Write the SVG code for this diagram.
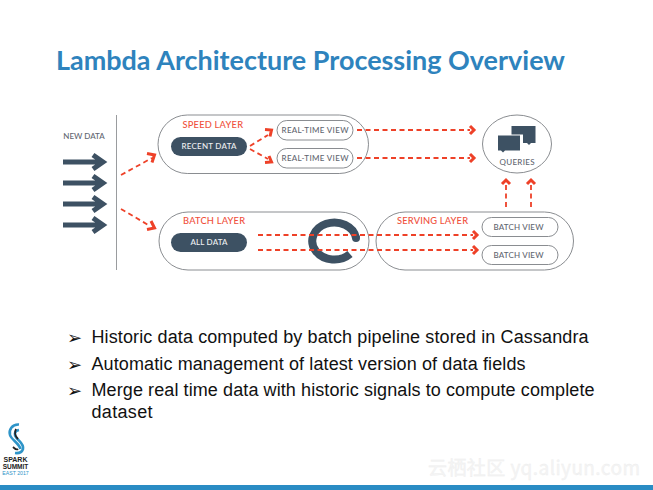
<svg xmlns="http://www.w3.org/2000/svg" width="653" height="490" viewBox="0 0 653 490">
<style>
.lay{fill:#fff;stroke:#8a8d91;stroke-width:1}
.view{fill:#fff;stroke:#8a8d91;stroke-width:1}
.pill{fill:#3d5163}
.t{font-family:Lato,"Liberation Sans",sans-serif;font-weight:500}
.red{fill:#f0503c;font-size:9.300px}
.gr{fill:#5f6670;font-size:8px;text-anchor:middle}
.wh{fill:#eef0f2;font-size:8px;text-anchor:middle}
.b{font-family:"Liberation Sans",Arial,sans-serif;font-size:18px;fill:#111}
.m{font-family:"DejaVu Sans",sans-serif;font-size:18px;fill:#111}
.d{fill:none;stroke:#ee4128;stroke-width:1.800;stroke-dasharray:5 3.500}
.h{fill:none;stroke:#ee4128;stroke-width:3}
.big{fill:none;stroke:#3d5163;stroke-width:5}
</style>
<rect width="653" height="490" fill="#fff"/>
<text x="56" y="70" class="t" style="font-weight:700" font-size="27" fill="#2e83bd" textLength="509" lengthAdjust="spacingAndGlyphs">Lambda Architecture Processing Overview</text>

<g id="new-data">
<text x="84" y="139" class="t gr" fill="#5f6670">NEW DATA</text>
<line x1="116.500" y1="115" x2="116.500" y2="270" stroke="#9a9c9f" stroke-width="1"/>
<path class="big" d="M63 162H103M93 155L103 162L93 169M63 183H103M93 176L103 183L93 190M63 204H103M93 197L103 204L93 211M63 225H103M93 218L103 225L93 232"/>
</g>

<g id="speed-layer">
<rect class="lay" x="158" y="115" width="210.500" height="58.500" rx="29.250"/>
<text x="182.500" y="128" class="t red" textLength="60.500">SPEED LAYER</text>
</g>
<g id="recent-data">
<rect class="pill" x="171" y="137" width="76" height="19" rx="9.500"/>
<text x="209" y="149" class="t wh" textLength="55">RECENT DATA</text>
</g>
<g id="rt-view-1">
<rect class="view" x="277" y="120.500" width="76" height="19.500" rx="9.750"/>
<text x="315" y="133" class="t gr" textLength="67">REAL-TIME VIEW</text>
</g>
<g id="rt-view-2">
<rect class="view" x="277" y="148.500" width="76" height="19.500" rx="9.750"/>
<text x="315" y="161" class="t gr" textLength="67">REAL-TIME VIEW</text>
</g>

<g id="batch-layer">
<rect class="lay" x="159" y="212" width="210" height="58" rx="29"/>
<text x="183" y="224" class="t red" textLength="62">BATCH LAYER</text>
</g>
<g id="all-data">
<rect class="pill" x="171" y="233" width="76" height="19" rx="9.500"/>
<text x="209" y="245" class="t wh" textLength="37">ALL DATA</text>
</g>

<g id="serving-layer">
<rect class="lay" x="376" y="212" width="197.500" height="58" rx="29" fill-opacity="0"/>
<text x="397" y="224" class="t red" textLength="71">SERVING LAYER</text>
</g>
<g id="batch-view-1">
<rect class="view" x="482" y="217.500" width="76" height="19" rx="9.500"/>
<text x="518.500" y="230" class="t gr" textLength="50">BATCH VIEW</text>
</g>
<g id="batch-view-2">
<rect class="view" x="482" y="245.500" width="76" height="19" rx="9.500"/>
<text x="518.500" y="258" class="t gr" textLength="50">BATCH VIEW</text>
</g>

<g id="queries">
<ellipse class="lay" cx="517" cy="144" rx="34.500" ry="29"/>
<path fill="#3d5163" d="M511.500 126H535.500V143H531L529 145L527 143H523V134.500H511.500Z"/>
<path fill="#3d5163" d="M498 135.500H520V150.500H505L503 152.500L501 150.500H498Z"/>
<text x="517" y="165" class="t gr" textLength="35">QUERIES</text>
</g>

<g id="ring">
<path d="M356 238A22 18.500 0 1 0 350 254" fill="none" stroke="#3d5163" stroke-width="8"/>
<circle cx="356" cy="238" r="4" fill="#3d5163"/>
</g>

<g id="connectors">
<path class="d" d="M121 175L152 158"/><path class="h" d="M147 153.500L154.500 155L152 162.500"/>
<path class="d" d="M121 209L150 226"/><path class="h" d="M147 229.500L154.500 228L151 221"/>
<path class="d" d="M250 146L268 135"/><path class="h" d="M265 129.500L271.500 130L270 136.500"/>
<path class="d" d="M250 149L268 159"/><path class="h" d="M265 162.500L271.500 162L269 156"/>
<path class="d" d="M357 130H470"/><path class="h" d="M470 126L474 130L470 134"/>
<path class="d" d="M357 158H470"/><path class="h" d="M470 154L474 158L470 162"/>
<path class="d" d="M258 235H473"/><path class="h" d="M473 231L477 235L473 239"/>
<path class="d" d="M258 250H473"/><path class="h" d="M473 246L477 250L473 254"/>
<path class="d" d="M506 207V183"/><path class="h" d="M502 184L506 180L510 184"/>
<path class="d" d="M531 207V183"/><path class="h" d="M527 184L531 180L535 184"/>
</g>

<text x="67" y="344" class="m">➢</text>
<text x="91.500" y="343" class="b" textLength="497">Historic data computed by batch pipeline stored in Cassandra</text>
<text x="67" y="370.500" class="m">➢</text>
<text x="91.500" y="370" class="b" textLength="434">Automatic management of latest version of data fields</text>
<text x="67" y="397" class="m">➢</text>
<text x="91.500" y="396" class="b" textLength="503">Merge real time data with historic signals to compute complete</text>
<text x="91.500" y="418" class="b" textLength="61">dataset</text>

<g id="logo">
<path d="M19 424.500C12 424 8.500 430 10 435C11.500 440 19 443 20.500 449" fill="none" stroke="#2e94c8" stroke-width="2.600"/>
<path d="M19 430C14 431 14 435 16.500 438C19 441 24 444 23 449C22 452 19 453.500 15 453" fill="none" stroke="#2e94c8" stroke-width="2.600"/>
<path d="M13 447C15 449 17 450 18 449" fill="none" stroke="#222" stroke-width="1.800"/>
<path d="M16 429C14 433 15 436 18 439" fill="none" stroke="#222" stroke-width="1.800"/>
<text x="15.500" y="462" text-anchor="middle" font-family="Liberation Sans,sans-serif" font-weight="700" font-size="7" fill="#222">SPARK</text>
<text x="15.500" y="469" text-anchor="middle" font-family="Liberation Sans,sans-serif" font-weight="700" font-size="6.500" fill="#222">SUMMIT</text>
<text x="15.500" y="475" text-anchor="middle" font-family="Liberation Sans,sans-serif" font-size="5.200" fill="#2e94c8">EAST 2017</text>
</g>

<text x="428" y="475" font-family="Noto Sans CJK SC,Liberation Sans,sans-serif" font-size="19" fill="#f5f5f5" stroke="#ececec" stroke-width=".3" textLength="212">云栖社区 yq.aliyun.com</text>
<rect x="0" y="485" width="653" height="5" fill="#2a8cc4"/>
</svg>
